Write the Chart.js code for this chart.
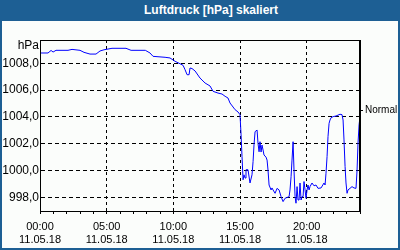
<!DOCTYPE html>
<html>
  <head>
    <meta charset="utf-8" />
    <title>Luftdruck</title>
    <script src="https://cdn.jsdelivr.net/npm/chart.js@4/dist/chart.umd.min.js"></script>
    <style>
      body { margin: 0; background: #fbfdfb; }
      #wrap { position: relative; width: 400px; height: 250px; overflow: hidden; }
      #title {
        position: absolute; left: 0; top: 0; width: 400px; height: 21px;
        background: #1d5f94; color: #fff; font: bold 12px "Liberation Sans", Arial, sans-serif;
        line-height: 21px; text-align: center; box-sizing: border-box; padding-left: 22px;
      }
      #frame {
        position: absolute; left: 0; top: 0; width: 400px; height: 250px;
        box-sizing: border-box; border: 2px solid #1d5f94; pointer-events: none;
      }
      canvas { position: absolute; left: 0; top: 0; }
    </style>
  </head>
  <body>
    <div id="wrap">
      <canvas id="chart" width="400" height="250"></canvas>
      <div id="title">Luftdruck [hPa] skaliert</div>
      <div id="frame"></div>
    </div>
    <script>
      // hours since 00:00 on 11.05.18
      var hours = [
        0, 0.6, 0.83, 0.98, 1.2, 2.1, 2.4, 3.0, 3.3, 3.75, 4.2, 4.5, 4.8, 5.4, 6.45, 6.83, 7.9,
        8.25, 8.48, 9.38, 9.75, 10.13, 10.5, 10.73, 10.88, 11.03, 11.18, 11.25, 11.4, 11.63,
        12.0, 12.38, 12.75, 12.98, 13.35, 13.65, 13.88, 14.1, 14.25, 14.63, 14.85, 15.0,
        15.08, 15.15, 15.23, 15.3, 15.38, 15.45, 15.6, 15.75, 15.9, 15.98, 16.05, 16.13,
        16.28, 16.35, 16.43, 16.5, 16.58, 16.65, 16.73, 16.8, 16.95, 17.03, 17.1, 17.18,
        17.33, 17.4, 17.48, 17.63, 17.78, 17.93, 18.08, 18.23, 18.38, 18.68, 18.75, 18.83,
        18.9, 18.98, 19.05, 19.13, 19.2, 19.28, 19.35, 19.43, 19.5, 19.58, 19.65, 19.73,
        19.8, 19.88, 19.95, 20.03, 20.1, 20.18, 20.25, 20.4, 20.55, 20.7, 20.85, 21.08,
        21.3, 21.38, 21.45, 21.53, 21.6, 21.68, 21.75, 21.83, 21.98, 22.2, 22.5, 22.65,
        22.73, 22.8, 22.88, 22.95, 23.03, 23.1, 23.25, 23.4, 23.55, 23.7, 23.78, 23.85,
        23.93, 24.0
      ];
      var pressure = [
        1008.77, 1008.77, 1008.96, 1008.84, 1008.97, 1008.97, 1009.04, 1008.97, 1008.82, 1008.69, 1008.69, 1008.92, 1009.01, 1009.12, 1009.12, 1008.97, 1008.97,
        1008.77, 1008.52, 1008.45, 1008.4, 1008.15, 1007.97, 1007.85, 1007.52, 1007.15, 1007.15, 1007.65, 1007.61, 1007.43,
        1006.9, 1006.53, 1006.31, 1005.91, 1005.78, 1005.71, 1005.54, 1005.41, 1005.04, 1004.54, 1004.37, 1004.17,
        1002.66, 1001.05, 999.31, 999.68, 999.44, 1000.06, 1000.06, 999.07, 999.68, 1000.67, 1001.91, 1002.9,
        1003.02, 1002.03, 1001.4, 1002.15, 1001.38, 1001.9, 1001.53, 1001.16, 1001.0, 1000.78, 1000.04, 998.92,
        998.55, 998.7, 998.55, 998.3, 998.67, 998.55, 998.05, 997.68, 997.93, 998.05, 998.55, 999.54,
        1000.78, 1002.15, 1000.04, 998.05, 997.56, 998.8, 997.8, 997.8, 999.07, 997.8, 998.05, 998.05,
        999.18, 998.55, 997.93, 998.55, 998.92, 998.55, 998.8, 999.07, 998.86, 998.92, 998.67, 998.7,
        999.07, 998.92, 999.8, 1001.05, 1002.53, 1003.52, 1003.77, 1003.94, 1004.02, 1004.07, 1004.2, 1004.17,
        1003.77, 1002.28, 1000.3, 999.07, 998.3, 998.55, 998.67, 998.8, 998.7, 998.67, 1000.04, 1002.03,
        1003.4, 1004.02
      ];

      var timeLabels = ["00:00", "05:00", "10:00", "15:00", "20:00"];
      var dateLabel = "11.05.18";
      var yTicks = [998, 1000, 1002, 1004, 1006, 1008];
      var unitLabel = "hPa";
      var unitPos = 1009.29;
      var normalLabel = "Normal";
      var normalValue = 1004.5;

      var yMin = 996.98, yMax = 1009.74;

      var points = hours.map(function (h, i) { return { x: h, y: pressure[i] }; });

      var frame = {
        id: "frame",
        afterDatasetsDraw: function (chart) {
          var a = chart.chartArea, c = chart.ctx;
          c.save();
          c.strokeStyle = "#000";
          c.lineWidth = 1;
          c.strokeRect(a.left + 0.5, a.top + 0.5, a.right - a.left - 1, a.bottom - a.top);
          c.restore();
        }
      };

      var font = { family: "'Liberation Sans', Arial, sans-serif", size: 11 };

      new Chart(document.getElementById("chart").getContext("2d"), {
        type: "line",
        data: {
          datasets: [{
            data: points,
            borderColor: "#0000ff",
            borderWidth: 1,
            pointRadius: 0,
            tension: 0,
            yAxisID: "y"
          }]
        },
        options: {
          responsive: false,
          animation: false,
          layout: { padding: { top: 40, left: 0, right: 0, bottom: 0 } },
          plugins: { legend: { display: false }, tooltip: { enabled: false } },
          scales: {
            x: {
              type: "linear",
              min: 0,
              max: 24,
              afterFit: function (s) { s.height = 39; },
              afterBuildTicks: function (s) {
                var t = [];
                for (var h = 0; h <= 24; h++) t.push({ value: h });
                s.ticks = t;
              },
              grid: {
                color: function (ctx) {
                  return ctx.tick && ctx.tick.value % 5 === 0 ? "#000" : "rgba(0,0,0,0)";
                },
                tickColor: "#000",
                tickLength: 3,
                lineWidth: 1
              },
              border: { display: true, color: "#000", dash: [3, 3] },
              ticks: {
                autoSkip: false,
                maxRotation: 0,
                padding: 6,
                color: "#000",
                font: font,
                callback: function (v) {
                  if (v % 5 !== 0) return "";
                  return [timeLabels[v / 5], dateLabel];
                }
              }
            },
            y: {
              position: "left",
              min: yMin,
              max: yMax,
              afterFit: function (s) { s.width = 40; },
              afterBuildTicks: function (s) {
                s.ticks = yTicks.map(function (v) { return { value: v }; }).concat([{ value: unitPos }]);
              },
              grid: {
                drawTicks: false,
                color: function (ctx) {
                  return ctx.tick && ctx.tick.value === unitPos ? "rgba(0,0,0,0)" : "#000";
                }
              },
              border: { display: true, color: "#000", dash: [4, 3] },
              ticks: {
                padding: 1,
                color: "#000",
                font: { family: font.family, size: 12 },
                callback: function (v) {
                  if (v === unitPos) return unitLabel;
                  return v.toFixed(1).replace(".", ",");
                }
              }
            },
            y2: {
              position: "right",
              min: yMin,
              max: yMax,
              afterFit: function (s) { s.width = 40; },
              afterBuildTicks: function (s) { s.ticks = [{ value: normalValue }]; },
              grid: { drawOnChartArea: false, tickColor: "#000", tickLength: 3 },
              border: { display: true, color: "#000" },
              ticks: {
                padding: 2,
                color: "#000",
                font: { family: font.family, size: 10 },
                callback: function () { return normalLabel; }
              }
            }
          }
        },
        plugins: [frame]
      });
    </script>
  </body>
</html>
